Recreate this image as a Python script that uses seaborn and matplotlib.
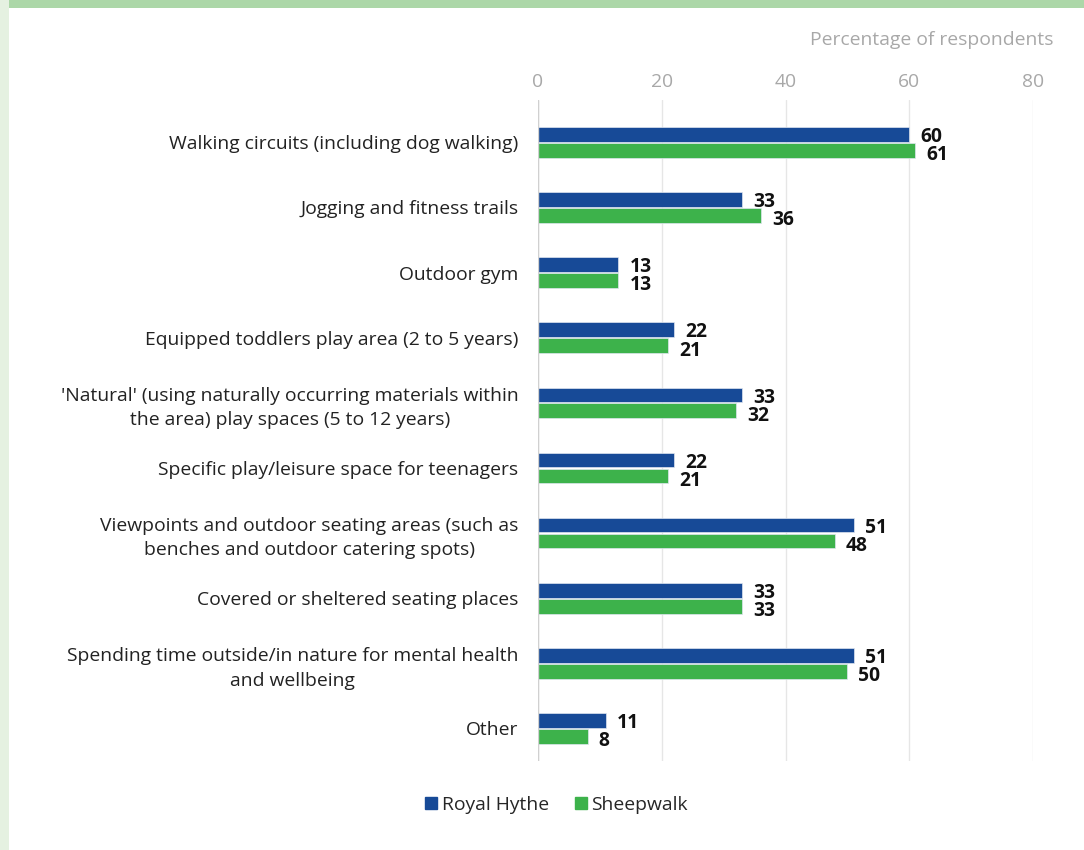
import matplotlib
matplotlib.use("Agg")
import matplotlib.pyplot as plt
import matplotlib.patches as mpatches
from matplotlib.lines import Line2D
import seaborn as sns
import pandas as pd

# Survey categories (top to bottom)
categories = [
    "Walking circuits (including dog walking)",
    "Jogging and fitness trails",
    "Outdoor gym",
    "Equipped toddlers play area (2 to 5 years)",
    "'Natural' (using naturally occurring materials within\nthe area) play spaces (5 to 12 years)",
    "Specific play/leisure space for teenagers",
    "Viewpoints and outdoor seating areas (such as\nbenches and outdoor catering spots)",
    "Covered or sheltered seating places",
    "Spending time outside/in nature for mental health\nand wellbeing",
    "Other",
]
series_names = ["Royal Hythe", "Sheepwalk"]
royal_hythe = [60, 33, 13, 22, 33, 22, 51, 33, 51, 11]
sheepwalk = [61, 36, 13, 21, 32, 21, 48, 33, 50, 8]
x_ticks = [0, 20, 40, 60, 80]
axis_title = "Percentage of respondents"

colors = {"Royal Hythe": "#174a97", "Sheepwalk": "#3db24b"}
FS = 13.9

df = pd.DataFrame({
    "category": categories * 2,
    "site": [series_names[0]] * len(categories) + [series_names[1]] * len(categories),
    "value": royal_hythe + sheepwalk,
})

sns.set_theme(style="white")
plt.rcParams["font.family"] = ["Open Sans", "DejaVu Sans"]

fig = plt.figure(figsize=(10.84, 8.5), dpi=100)
fig.patch.set_facecolor("white")

# Page decorations: green band on top, pale strip on the left
fig.add_artist(mpatches.Rectangle((9 / 1084, 1 - 8 / 850), 1, 8 / 850,
                                  transform=fig.transFigure, color="#acd7a8", lw=0))
fig.add_artist(mpatches.Rectangle((0, 0), 9 / 1084, 1,
                                  transform=fig.transFigure, color="#e5f1e1", lw=0))

ax = fig.add_axes([538 / 1084, 1 - 761 / 850, (1033 - 538) / 1084, (761 - 100) / 850])

sns.barplot(data=df, y="category", x="value", hue="site", order=categories,
            hue_order=series_names, palette=colors, orient="h",
            width=0.49, gap=0.08, ax=ax, legend=False, saturation=1,
            linewidth=0.5, edgecolor="#dfe6f0")

ax.set_xlim(0, 80)
ax.set_ylim(len(categories) - 0.5, -0.65)
ax.set_xticks(x_ticks)
ax.xaxis.tick_top()
ax.tick_params(axis="x", length=0, pad=6.5, labelsize=FS, labelcolor="#a8a8a8")
ax.tick_params(axis="y", length=0, pad=14, labelsize=FS, labelcolor="#222222")
for lbl in ax.get_yticklabels():
    lbl.set_multialignment("center")
    lbl.set_linespacing(1.45)
ax.set_xlabel("")
ax.set_ylabel("")
ax.grid(axis="x", color="#e6e6e6", lw=1)
ax.set_axisbelow(True)
for s in ax.spines.values():
    s.set_visible(False)
ax.axvline(0, color="#d0d0d0", lw=1, zorder=1)

# Value labels next to bar ends
for k, container in enumerate(ax.containers):
    dy = -2.0 if k == 0 else -3.5
    for bar in container:
        w = bar.get_width()
        yc = bar.get_y() + bar.get_height() / 2
        ax.annotate(f"{w:.0f}", xy=(w, yc), xytext=(8, dy), textcoords="offset points",
                    ha="left", va="center", fontsize=FS, fontweight="bold",
                    color="#111111")

fig.text(1053 / 1084, 1 - 40 / 850, axis_title, ha="right", va="center",
         fontsize=FS, color="#a8a8a8")

handles = [Line2D([0], [0], marker="s", linestyle="", markersize=8,
                  markerfacecolor=colors[n], markeredgecolor=colors[n]) for n in series_names]
fig.legend(handles, series_names, loc="center", bbox_to_anchor=(555 / 1084, 1 - 805 / 850),
           ncol=2, frameon=False, fontsize=FS, handletextpad=0.1, columnspacing=1.2,
           handlelength=0.9)

fig.savefig("out.png", dpi=100, facecolor="white")
